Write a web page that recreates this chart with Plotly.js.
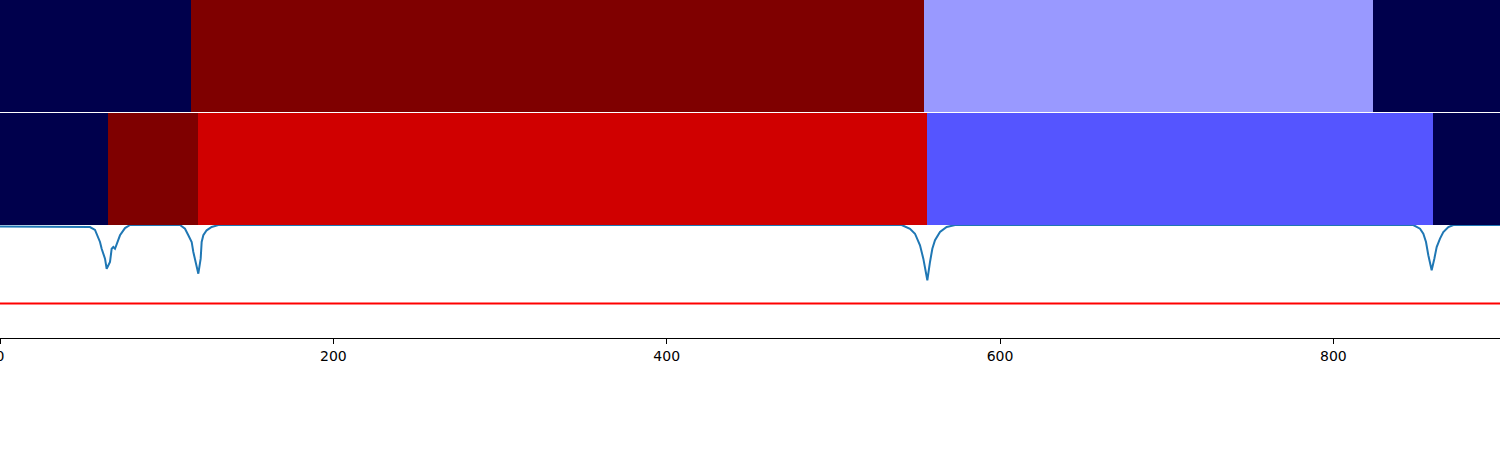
<!DOCTYPE html>
<html>
<head>
<meta charset="utf-8">
<script src="https://cdn.plot.ly/plotly-3.0.1.min.js"></script>
<style>html,body{margin:0;padding:0;background:#fff;} #chart{width:1500px;height:450px;}</style>
</head>
<body>
<div id="chart"></div>
<script>
// Top strip: segment edges and colormap values (seismic, 0..1)
const topEdges = [0, 114.6, 554.4, 823.8, 900];
const topValues = [0, 1, 0.4, 0];
// Middle strip
const midEdges = [0, 64.8, 118.8, 556.2, 859.8, 900];
const midValues = [0, 1, 0.842, 0.333, 0];
// Bottom curve
const curveX = [0, 36, 54, 57, 60, 61, 63, 64, 66, 67, 68, 69, 70, 72, 75, 78,
  108, 111, 113, 115, 116, 117, 119, 120.4, 121, 122, 124, 127, 131,
  541, 546, 549, 552, 554, 556.4, 558, 559.4, 561, 564, 568, 573,
  848, 852, 854, 855.6, 857, 859, 860.6, 862, 864, 866, 869, 872, 900];
const curveY = [0.987, 0.987, 0.982, 0.956, 0.850, 0.790, 0.702, 0.613, 0.673, 0.790, 0.805, 0.790, 0.835, 0.909, 0.973, 1.0,
  1.0, 0.967, 0.909, 0.850, 0.761, 0.688, 0.569, 0.702, 0.850, 0.909, 0.953, 0.982, 1.0,
  1.0, 0.967, 0.923, 0.820, 0.702, 0.511, 0.673, 0.790, 0.865, 0.938, 0.982, 1.0,
  1.0, 0.967, 0.923, 0.850, 0.732, 0.599, 0.702, 0.805, 0.879, 0.938, 0.982, 1.0, 1.0];
const thresholdX = [0, 900];
const thresholdY = [0.305, 0.305];
const tickVals = [0, 200, 400, 600, 800];
const tickText = ['0', '200', '400', '600', '800'];

const seismic = [[0, 'rgb(0,0,76)'], [0.25, 'rgb(0,0,255)'], [0.5, 'rgb(255,255,255)'], [0.75, 'rgb(255,0,0)'], [1, 'rgb(127,0,0)']];

const traces = [
  {type: 'heatmap', x: topEdges, y: [0], z: [topValues], colorscale: seismic, zmin: 0, zmax: 1,
   showscale: false, xaxis: 'x3', yaxis: 'y3', hoverinfo: 'skip'},
  {type: 'heatmap', x: midEdges, y: [0], z: [midValues], colorscale: seismic, zmin: 0, zmax: 1,
   showscale: false, xaxis: 'x2', yaxis: 'y2', hoverinfo: 'skip'},
  {type: 'scatter', mode: 'lines', x: curveX, y: curveY, line: {color: '#1f77b4', width: 2},
   xaxis: 'x', yaxis: 'y', showlegend: false},
  {type: 'scatter', mode: 'lines', x: thresholdX, y: thresholdY, line: {color: '#ff0000', width: 2},
   xaxis: 'x', yaxis: 'y', showlegend: false}
];

const hiddenY = {showticklabels: false, ticks: '', showgrid: false, zeroline: false, showline: false, range: [-0.5, 0.5], fixedrange: true};
const hiddenX = {showticklabels: false, ticks: '', showgrid: false, zeroline: false, showline: false, range: [0, 900], matches: 'x'};

const layout = {
  width: 1500, height: 450,
  margin: {l: 0, r: 0, t: 0, b: 112, pad: 0},
  paper_bgcolor: '#ffffff', plot_bgcolor: '#ffffff',
  showlegend: false,
  font: {family: 'DejaVu Sans', size: 14, color: '#000'},
  xaxis: {anchor: 'y', range: [0, 900], tickvals: tickVals, ticktext: tickText,
          ticks: 'outside', ticklen: 5, tickwidth: 1, tickcolor: '#000', ticklabeloverflow: 'allow',
          showline: true, linecolor: '#000', linewidth: 1, mirror: false,
          showgrid: false, zeroline: false, tickfont: {family: 'DejaVu Sans', size: 14, color: '#000'}},
  yaxis: {domain: [0, 0.3343], range: [0, 1], showticklabels: false, ticks: '', showgrid: false,
          zeroline: false, showline: true, linecolor: '#000', linewidth: 2},
  xaxis2: Object.assign({anchor: 'y2'}, hiddenX),
  yaxis2: Object.assign({domain: [0.3343, 0.6657]}, hiddenY),
  xaxis3: Object.assign({anchor: 'y3'}, hiddenX),
  yaxis3: Object.assign({domain: [0.6686, 1]}, hiddenY)
};

Plotly.newPlot('chart', traces, layout, {displayModeBar: false, staticPlot: true});
</script>
</body>
</html>
